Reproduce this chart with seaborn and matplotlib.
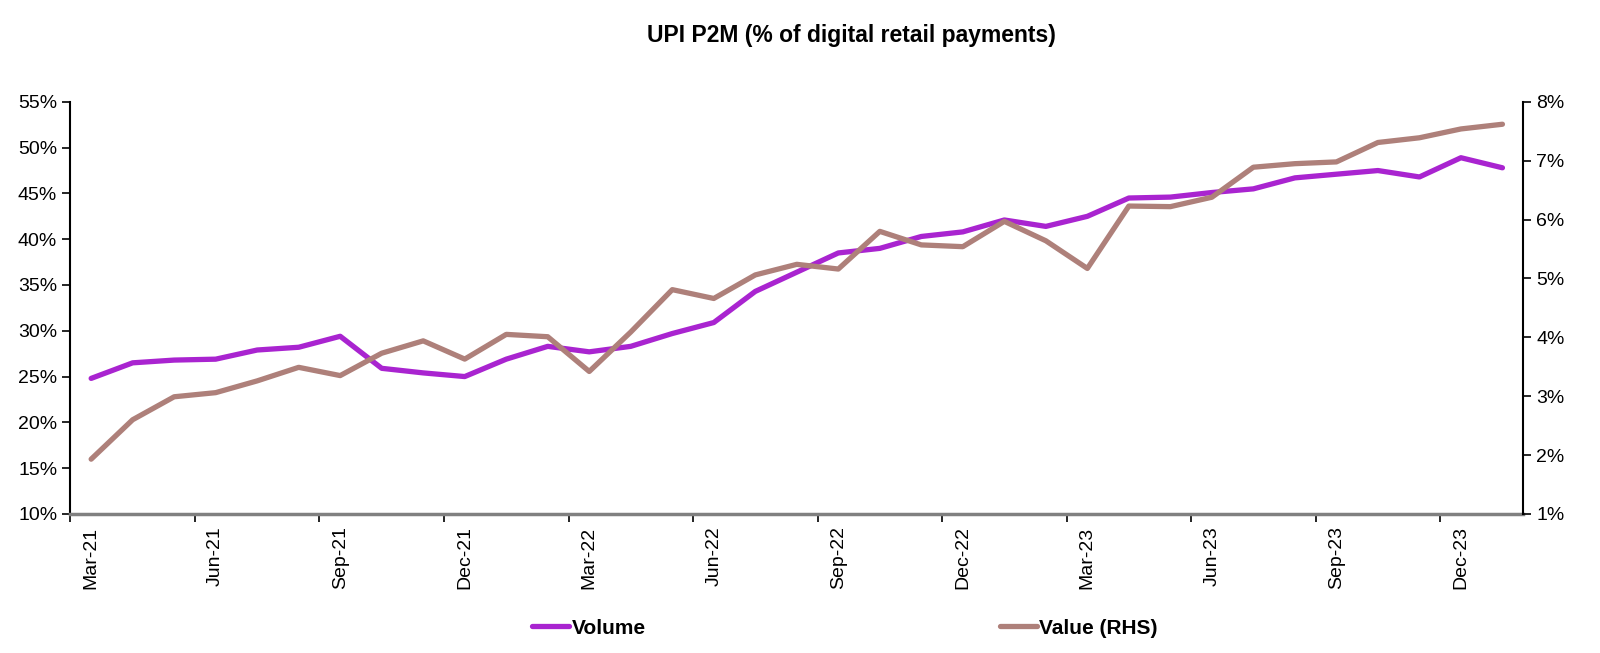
import matplotlib
matplotlib.use("Agg")
from matplotlib import pyplot as plt
from matplotlib.ticker import FuncFormatter
import pandas as pd
import seaborn as sns

# monthly data, Mar-21 .. Jan-24
months = pd.date_range("2021-03-01", "2024-01-01", freq="MS").strftime("%b-%y").tolist()

volume = [24.8, 26.5, 26.8, 26.9, 27.9, 28.2, 29.4, 25.9, 25.4, 25.0, 26.9, 28.3,
          27.7, 28.3, 29.7, 30.9, 34.3, 36.4, 38.5, 39.0, 40.3, 40.8, 42.1, 41.4,
          42.5, 44.5, 44.6, 45.1, 45.5, 46.7, 47.1, 47.5, 46.8, 48.9, 47.8]

value_rhs = [1.93, 2.60, 2.99, 3.06, 3.26, 3.49, 3.35, 3.73, 3.94, 3.63, 4.05, 4.01,
             3.42, 4.09, 4.81, 4.66, 5.06, 5.24, 5.16, 5.80, 5.57, 5.54, 5.97, 5.64,
             5.17, 6.23, 6.22, 6.38, 6.89, 6.95, 6.98, 7.31, 7.39, 7.54, 7.62]

PURPLE = "#A924D0"
BROWN = "#AE807A"

df = pd.DataFrame({"pos": range(len(months)), "month": months,
                   "Volume": volume, "Value (RHS)": value_rhs})

sns.set_theme(style="white")
plt.rcParams["font.family"] = ["Liberation Sans", "DejaVu Sans"]
plt.rcParams["text.color"] = "black"
plt.rcParams["xtick.color"] = "black"
plt.rcParams["ytick.color"] = "black"

fig, ax = plt.subplots(figsize=(16, 6.53), dpi=100)
fig.subplots_adjust(left=0.044, right=0.952, top=0.844, bottom=0.213)
ax2 = ax.twinx()

sns.lineplot(data=df, x="pos", y="Volume", ax=ax, color=PURPLE, linewidth=3.8,
             label="Volume", legend=False)
sns.lineplot(data=df, x="pos", y="Value (RHS)", ax=ax2, color=BROWN, linewidth=3.8,
             label="Value (RHS)", legend=False)

ax.set_xlim(-0.5, len(months) - 0.5)
ax.set_ylim(10, 55)
ax2.set_ylim(1, 8)
ax.set_yticks(range(10, 56, 5))
ax2.set_yticks(range(1, 9))
pct = FuncFormatter(lambda v, _: f"{v:.0f}%")
ax.yaxis.set_major_formatter(pct)
ax2.yaxis.set_major_formatter(pct)

# labels on every 3rd month, ticks on category boundaries
label_pos = list(range(0, len(months), 3))
ax.set_xticks(label_pos)
ax.set_xticklabels([months[i] for i in label_pos], rotation=90, fontsize=14)
ax.set_xticks([p - 0.5 for p in label_pos], minor=True)
ax.tick_params(axis="x", which="major", length=0, pad=9)
ax.tick_params(axis="x", which="minor", length=6, width=1.2, color="black", bottom=True)
ax.tick_params(axis="y", length=6, width=1.2, color="black", left=True, labelsize=14)
ax2.tick_params(axis="y", length=6, width=1.2, color="black", right=True, labelsize=14)
ax.set_xlabel("")
ax.set_ylabel("")
ax2.set_ylabel("")

for a in (ax, ax2):
    a.spines["top"].set_visible(False)
    a.grid(False)
ax.spines["left"].set_color("black")
ax.spines["left"].set_linewidth(1.5)
ax2.spines["right"].set_color("black")
ax2.spines["right"].set_linewidth(1.5)
ax2.spines["left"].set_visible(False)
ax.spines["right"].set_visible(False)
ax.spines["bottom"].set_color("#808080")
ax.spines["bottom"].set_linewidth(2.5)
ax2.spines["bottom"].set_visible(False)

fig.suptitle("UPI P2M (% of digital retail payments)", fontsize=16.5,
             fontweight="bold", x=0.532, y=0.945, va="center")

handles = ax.get_lines()[:1] + ax2.get_lines()[:1]
fig.legend(handles, ["Volume", "Value (RHS)"], loc="center", ncol=2,
           bbox_to_anchor=(0.528, 0.038), frameon=False, handlelength=1.8,
           handletextpad=0.1, columnspacing=17.0,
           prop={"weight": "bold", "size": 15})

fig.savefig("out.png", dpi=100)
